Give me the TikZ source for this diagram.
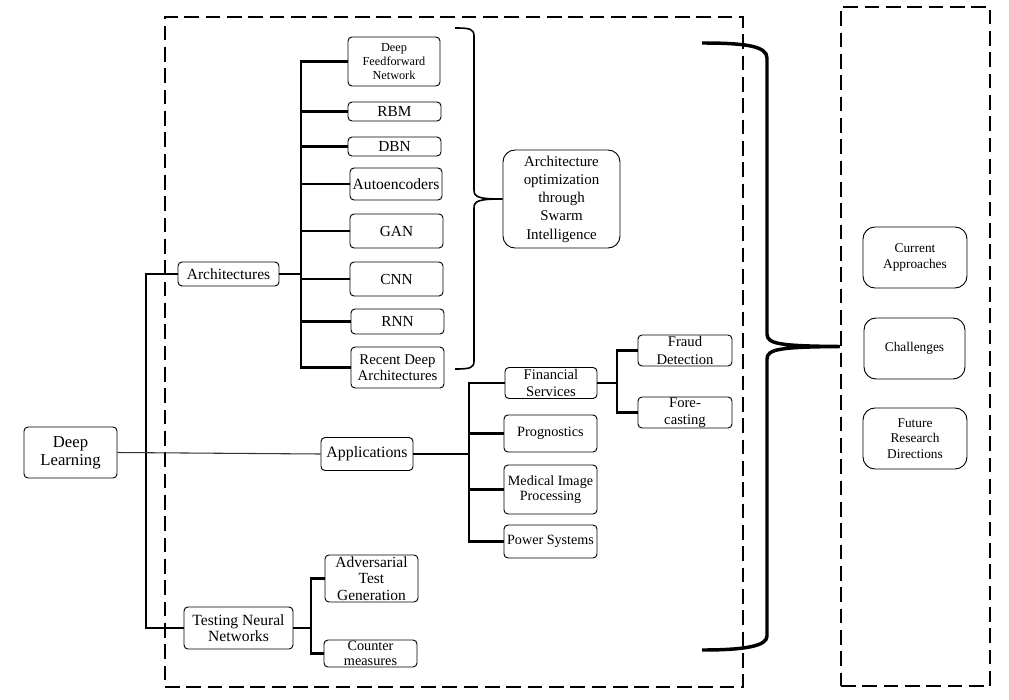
\documentclass[tikz,border=0pt]{standalone}
\usepackage{fontspec}
\setmainfont{Liberation Serif}

\tikzset{
  box/.style={draw,rounded corners=3pt,line width=0.7pt,inner sep=0pt,align=center},
  softbox/.style={box,rounded corners=9pt},
  sz/.style 2 args={minimum width=#1,minimum height=#2},
  fs/.style 2 args={font=\fontsize{#1}{#2}\selectfont},
  conn/.style={line width=2pt},
  dashbox/.style={draw,line width=1.9pt,dash pattern=on 11pt off 5pt,inner sep=0pt},
}

\begin{document}
\begin{tikzpicture}[x=0.75pt,y=-0.75pt]
    \useasboundingbox (0,0) rectangle (1009,699);
    %Rahmen
    \node[dashbox,sz={433.5pt}{502.5pt}] (dlbox) at (454,352) {};
    \node[dashbox,sz={111.75pt}{509.25pt}] (outbox) at (915.5,346.5) {};

    %Wurzel
    \node[box,sz={69.75pt}{38.25pt},fs={12.5}{13.5}] (dl) at (70.5,452.5) {Deep\\Learning};
    \node[box,sz={75.75pt}{18pt},fs={11.6}{13}] (arch) at (228.5,274) {Architectures};
    \node[box,sz={69pt}{24.75pt},fs={11.9}{13}] (app) at (367,454) {Applications};
    \node[box,sz={81.75pt}{31.5pt},fs={11.7}{12.5}] (tnn) at (238.5,628) {Testing Neural\\Networks};

    %Architekturen
    \node[box,sz={69pt}{36.75pt},fs={9.2}{10.5}] (dff) at (394,61.5) {Deep\\Feedforward\\Network};
    \node[box,sz={69.75pt}{14.25pt},fs={11.5}{13}] (rbm) at (394.5,111.5) {RBM};
    \node[box,sz={69.75pt}{14.25pt},fs={11.5}{13}] (dbn) at (394.5,146.5) {DBN};
    \node[box,sz={69pt}{24pt},fs={11.7}{13}] (ae) at (396,184) {Autoencoders};
    \node[box,sz={69.75pt}{25.5pt},fs={11.5}{13}] (gan) at (396.5,231) {GAN};
    \node[box,sz={69.75pt}{25.5pt},fs={11.5}{13}] (cnn) at (396.5,279) {CNN};
    \node[box,sz={69.75pt}{18.75pt},fs={11.5}{13}] (rnn) at (397.5,321.5) {RNN};
    \node[box,sz={69.75pt}{30.75pt},fs={11.1}{12}] (rda) at (397.5,367.5) {Recent Deep\\Architectures};
    \node[softbox,sz={87.75pt}{73.5pt},fs={11.2}{13.7}] (opt) at (561.5,199) {Architecture\\optimization\\through\\Swarm\\Intelligence};

    %Anwendungen
    \node[box,sz={69pt}{23.25pt},fs={11}{12.5}] (fin) at (551,383) {Financial\\Services};
    \node[box,sz={69.75pt}{27.75pt},fs={10.7}{12}] (prog) at (550.5,433.5) {Prognostics};
    \node[box,sz={69.75pt}{36.75pt},fs={10.6}{10.8}] (med) at (550.5,489.5) {Medical Image\\Processing};
    \node[box,sz={69.75pt}{24.75pt},fs={10.6}{12}] (pow) at (550.5,541.5) {Power Systems};
    \node[box,sz={70.5pt}{23.25pt},fs={11}{13.5}] (fraud) at (685,350.5) {Fraud\\Detection};
    \node[box,sz={70.5pt}{23.25pt},fs={11}{12.8}] (fore) at (685,412.5) {Fore-\\casting};

    %Testen
    \node[box,sz={69.75pt}{35.25pt},fs={11.6}{12.3}] (adv) at (371.5,578.5) {Adversarial\\Test\\Generation};
    \node[box,sz={69.75pt}{20.25pt},fs={10.7}{11.25}] (cm) at (370.5,653.5) {Counter\\measures};

    %Ausblick
    \node[softbox,sz={78pt}{45.75pt},fs={10}{11.7}] (cur) at (915,257.5) {Current\\Approaches};
    \node[softbox,sz={75.75pt}{45.75pt},fs={10}{11.7}] (chal) at (914.5,348.5) {Challenges};
    \node[softbox,sz={78pt}{45.75pt},fs={10}{11.7}] (fut) at (915,438.5) {Future\\Research\\Directions};

    %Verbindungen
    \coordinate (lbus) at (146,452);
    \draw[conn] (arch.west) -| (lbus) |- (tnn.west);
    \draw[line width=0.8pt,black!80] (dl.east) -- (app.west);

    \coordinate (abus) at (301,274);
    \draw[conn] (arch.east) -- (abus);
    \foreach \n in {dff,rbm,dbn,ae,gan,cnn,rnn,rda}
        \draw[conn] (abus) |- (\n.west);

    \coordinate (pbus) at (469,454);
    \draw[conn] (app.east) -- (pbus);
    \foreach \n in {fin,prog,med,pow}
        \draw[conn] (pbus) |- (\n.west);

    \coordinate (fbus) at (617,383);
    \draw[conn] (fin.east) -- (fbus);
    \foreach \n in {fraud,fore}
        \draw[conn] (fbus) |- (\n.west);

    \coordinate (tbus) at (311,628);
    \draw[conn] (tnn.east) -- (tbus);
    \foreach \n in {adv,cm}
        \draw[conn] (tbus) |- (\n.west);

    %Klammern
    \draw[line width=1.2pt] (455,28) .. controls (470,28) and (474,29) .. (474,36) -- (474,190)
        .. controls (474,197) and (478,199) .. (opt.west)
        .. controls (478,199) and (474,201) .. (474,208) -- (474,361)
        .. controls (474,368) and (470,369) .. (455,369);
    \draw[line width=2.6pt] (702,43) .. controls (745,43) and (767,46) .. (767,58) -- (767,334)
        .. controls (767,344) and (780,346) .. (outbox.west)
        .. controls (780,347) and (767,349) .. (767,359) -- (767,636)
        .. controls (767,646) and (745,650) .. (702,650);
\end{tikzpicture}
\end{document}
